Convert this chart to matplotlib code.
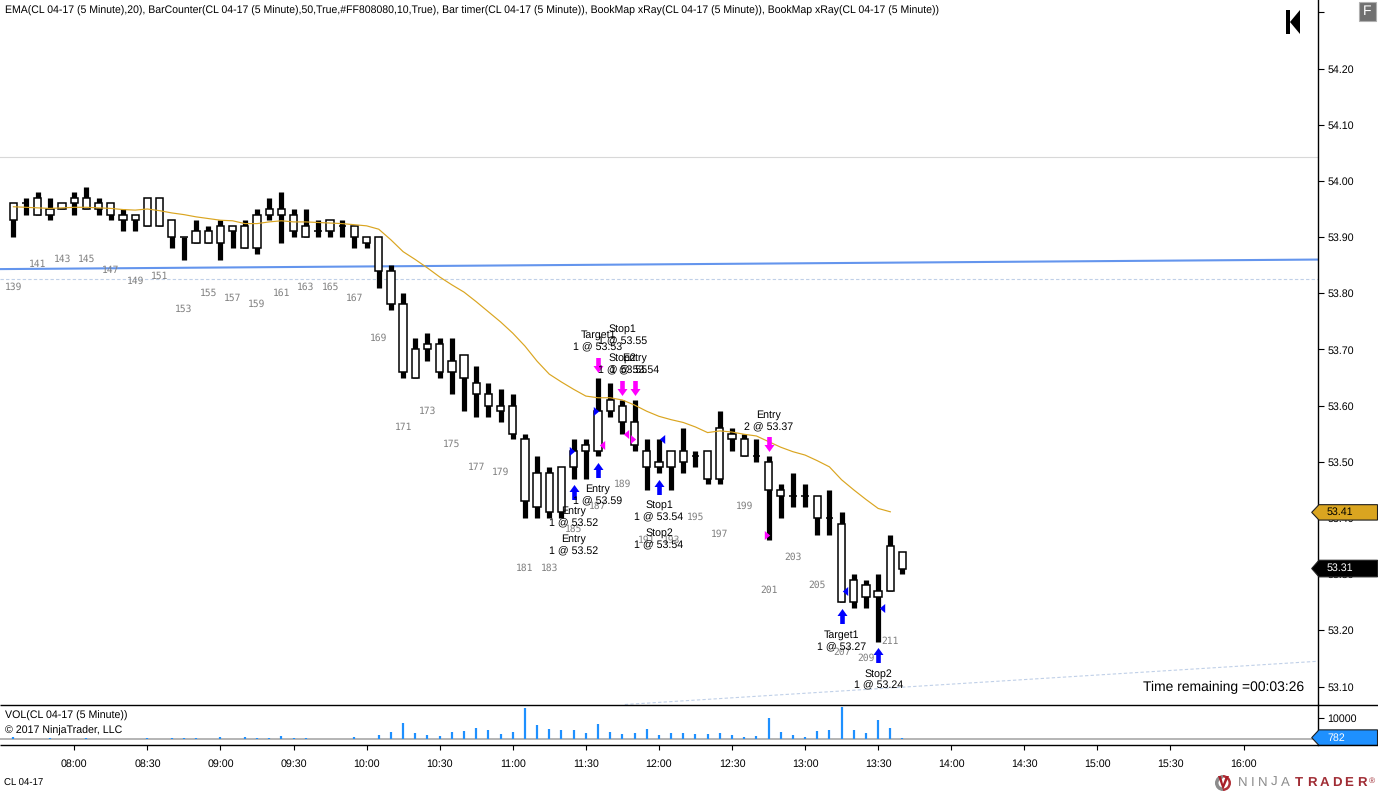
import numpy as np
import matplotlib
matplotlib.use("Agg")
import matplotlib.pyplot as plt
from matplotlib.path import Path
from matplotlib.patches import Polygon, Rectangle, Wedge
from matplotlib.transforms import offset_copy

plt.rcParams["font.family"] = ["Liberation Sans", "DejaVu Sans"]
plt.rcParams["text.hinting"] = "no_hinting"

# Bars 139..212, 5 minute CL 04-17
first_bar = 139
highs = [53.96, 53.97, 53.98, 53.97, 53.96, 53.98, 53.99, 53.97, 53.96, 53.95,
         53.94, 53.97, 53.97, 53.93, 53.90, 53.93, 53.92, 53.93, 53.92, 53.93,
         53.95, 53.97, 53.98, 53.95, 53.95, 53.93, 53.93, 53.93, 53.92, 53.90,
         53.90, 53.85, 53.80, 53.72, 53.73, 53.72, 53.72, 53.69, 53.67, 53.64,
         53.63, 53.62, 53.55, 53.51, 53.49, 53.49, 53.54, 53.54, 53.65, 53.64,
         53.61, 53.61, 53.54, 53.54, 53.52, 53.56, 53.52, 53.52, 53.59, 53.56,
         53.55, 53.54, 53.51, 53.46, 53.48, 53.46, 53.44, 53.45, 53.41, 53.30,
         53.29, 53.30, 53.37, 53.34]
body_tops = [53.96, 53.96, 53.97, 53.95, 53.96, 53.97, 53.97, 53.96, 53.96, 53.94,
             53.94, 53.97, 53.97, 53.93, 53.90, 53.91, 53.91, 53.92, 53.92, 53.92,
             53.94, 53.95, 53.95, 53.94, 53.92, 53.91, 53.93, 53.92, 53.92, 53.90,
             53.90, 53.84, 53.78, 53.70, 53.71, 53.71, 53.68, 53.69, 53.64, 53.62,
             53.60, 53.60, 53.54, 53.48, 53.48, 53.49, 53.52, 53.53, 53.59, 53.61,
             53.60, 53.57, 53.52, 53.50, 53.52, 53.52, 53.51, 53.52, 53.56, 53.55,
             53.54, 53.51, 53.50, 53.45, 53.44, 53.44, 53.44, 53.40, 53.39, 53.29,
             53.28, 53.27, 53.35, 53.34]
body_bottoms = [53.93, 53.96, 53.94, 53.94, 53.95, 53.96, 53.95, 53.95, 53.94, 53.93,
                53.93, 53.92, 53.92, 53.90, 53.90, 53.89, 53.89, 53.89, 53.91, 53.88,
                53.88, 53.94, 53.94, 53.91, 53.90, 53.91, 53.91, 53.92, 53.90, 53.89,
                53.84, 53.78, 53.66, 53.65, 53.70, 53.66, 53.66, 53.65, 53.62, 53.60,
                53.59, 53.55, 53.43, 53.42, 53.41, 53.41, 53.49, 53.52, 53.52, 53.59,
                53.57, 53.53, 53.49, 53.49, 53.49, 53.50, 53.51, 53.47, 53.47, 53.54,
                53.51, 53.51, 53.45, 53.44, 53.44, 53.44, 53.40, 53.40, 53.25, 53.25,
                53.26, 53.26, 53.27, 53.31]
lows = [53.90, 53.94, 53.94, 53.93, 53.95, 53.94, 53.95, 53.94, 53.93, 53.91,
        53.91, 53.92, 53.92, 53.88, 53.86, 53.89, 53.89, 53.86, 53.88, 53.88,
        53.87, 53.93, 53.89, 53.90, 53.90, 53.90, 53.90, 53.90, 53.88, 53.88,
        53.81, 53.77, 53.65, 53.65, 53.68, 53.65, 53.62, 53.59, 53.58, 53.58,
        53.57, 53.54, 53.40, 53.40, 53.40, 53.40, 53.47, 53.47, 53.51, 53.58,
        53.55, 53.52, 53.45, 53.48, 53.45, 53.48, 53.49, 53.46, 53.46, 53.52,
        53.51, 53.50, 53.36, 53.40, 53.42, 53.42, 53.37, 53.37, 53.25, 53.24,
        53.24, 53.18, 53.27, 53.30]

# EMA stops one bar before the last bar
ema = [53.954, 53.953, 53.952, 53.951, 53.952, 53.953, 53.953, 53.952, 53.951, 53.949,
       53.948, 53.950, 53.947, 53.943, 53.940, 53.936, 53.933, 53.930, 53.929, 53.924,
       53.924, 53.927, 53.929, 53.927, 53.927, 53.926, 53.925, 53.924, 53.922, 53.920,
       53.914, 53.895, 53.874, 53.860, 53.845, 53.829, 53.815, 53.802, 53.785, 53.767,
       53.749, 53.729, 53.706, 53.679, 53.656, 53.642, 53.629, 53.617, 53.614, 53.614,
       53.610, 53.601, 53.590, 53.581, 53.575, 53.570, 53.562, 53.552, 53.555, 53.553,
       53.549, 53.546, 53.536, 53.526, 53.518, 53.512, 53.502, 53.491, 53.468, 53.450,
       53.433, 53.417, 53.411]

volumes = [950, 160, 320, 800, 320, 320, 800, 320, 320, 160,
           160, 640, 160, 640, 640, 640, 320, 950, 160, 950,
           640, 640, 1430, 800, 640, 320, 320, 320, 950, 160,
           1900, 3340, 7630, 2860, 1900, 1430, 3340, 3820, 5250, 4450,
           2540, 3500, 14950, 6840, 4930, 4450, 4450, 3020, 7310, 3500,
           2540, 3020, 4930, 2070, 3020, 3020, 2540, 2540, 3020, 2070,
           1110, 1590, 10180, 3500, 2070, 1110, 3980, 4450, 15420, 4450,
           3020, 9220, 5410, 782]

# Trade markers: (bar number, text, price of the text centre)
trade_bars = [187, 189, 189, 190, 192, 192, 201, 187, 185, 185, 207, 210]
trade_names = ["Target1", "Stop1", "Stop2", "Entry", "Stop1", "Stop2",
               "Entry", "Entry", "Entry", "Entry", "Target1", "Stop2"]
trade_fills = ["1 @ 53.53", "1 @ 53.55", "1 @ 53.55", "1 @ 53.54", "1 @ 53.54", "1 @ 53.54",
               "2 @ 53.37", "1 @ 53.59", "1 @ 53.52", "1 @ 53.52", "1 @ 53.27", "1 @ 53.24"]
trade_text_prices = [53.715, 53.725, 53.674, 53.674, 53.412, 53.362,
                     53.572, 53.441, 53.402, 53.352, 53.181, 53.112]
buy_arrow_bars = [185, 187, 192, 207, 210]
sell_arrow_bars = [187, 189, 190, 201]
# Small execution triangles
right_tri_blue = [(185, 53.52), (187, 53.59)]
left_tri_blue = [(192, 53.54), (207, 53.27), (210, 53.24)]
left_tri_magenta = [(187, 53.53), (189, 53.55)]
right_tri_magenta = [(190, 53.54), (201, 53.37)]

# Drawn levels: price at the left and right edge of the chart
blue_line_prices = [53.843, 53.860]
dotted_level = 53.826
gray_level = 54.042
lower_trend_minutes = [706, 990.7]
lower_trend_prices = [53.068, 53.145]

time_labels = ["08:00", "08:30", "09:00", "09:30", "10:00", "10:30", "11:00", "11:30", "12:00",
               "12:30", "13:00", "13:30", "14:00", "14:30", "15:00", "15:30", "16:00"]
time_ticks = [480 + 30 * i for i in range(len(time_labels))]
price_ticks = [53.10, 53.20, 53.30, 53.40, 53.50, 53.60, 53.70, 53.80, 53.90, 54.00, 54.10, 54.20, 54.30]

W, H = 1378, 792
px = 72 / 100  # one pixel in points
font_small = 7.65

highs, lows = np.array(highs), np.array(lows)
body_tops, body_bottoms = np.array(body_tops), np.array(body_bottoms)
bars = np.arange(first_bar, first_bar + len(highs))


def bar_time(bar):
    return 455 + 5 * (np.asarray(bar) - first_bar)


minutes = bar_time(bars)

fig = plt.figure(figsize=(W / 100, H / 100), dpi=100)
ax = fig.add_axes([0, (H - 704.5) / H, 1318.3 / W, 704.5 / H])
ax_vol = fig.add_axes([0, (H - 745.3) / H, 1318.3 / W, 40.6 / H], sharex=ax)

ax.set_xlim(449.5, 990.7)
ax.set_ylim(53.068, 54.322)
ax_vol.set_ylim(-2857, 16476)

for a in (ax, ax_vol):
    for side in ("top", "left", "bottom"):
        a.spines[side].set_visible(False)
    a.spines["right"].set_linewidth(1.0)
    a.yaxis.tick_right()
    a.tick_params(axis="y", length=6 * px, width=0.8, pad=3 * px, labelsize=font_small)

ax.tick_params(axis="x", length=0, labelbottom=False)
ax.set_yticks(price_ticks)
ax.set_yticklabels(["%.2f" % p if p < 54.25 else "" for p in price_ticks])
ax_vol.set_yticks([10000])
ax_vol.set_yticklabels(["10000"])
ax_vol.set_xticks(time_ticks)
ax_vol.set_xticklabels(time_labels)
ax_vol.tick_params(axis="x", length=5 * px, width=0.8, pad=9 * px, labelsize=font_small)

# Levels
ax.axhline(gray_level, color="#d8d8d8", lw=0.8, zorder=1)
ax.plot(ax.get_xlim(), blue_line_prices, color="#6495ed", lw=1.5, zorder=1.5)
ax.axhline(dotted_level, color="#c0d0e8", lw=0.8, ls=(0, (3, 2)), zorder=1)
ax.plot(lower_trend_minutes, lower_trend_prices, color="#c0d0e8", lw=0.8, ls=(0, (3, 2)), zorder=1)

# Candles
ax.vlines(minutes, lows, highs, color="black", lw=5.2 * px, zorder=2)
ax.bar(minutes, body_tops - body_bottoms, bottom=body_bottoms, width=3.0,
       facecolor="white", edgecolor="black", linewidth=1.1, zorder=3)
ax.plot(minutes[:len(ema)], ema, color="#daa520", lw=0.85, zorder=4)

# Bar counter under every second bar
for bar, low in zip(bars, lows):
    if bar % 2 == 1 and bar < first_bar + 73:
        ax.annotate(str(bar), (bar_time(bar), low), xytext=(0, -50 * px), textcoords="offset points",
                    ha="center", va="center", fontsize=6.9, color="#808080",
                    family="DejaVu Sans Mono", zorder=5)

# Entry and exit arrows
arrow_up = Path([(0, 7.5), (5, 0.5), (2.3, 0.5), (2.3, -7.5), (-2.3, -7.5), (-2.3, 0.5), (-5, 0.5), (0, 7.5)], closed=True)
arrow_down = Path([(0, -7.5), (5, -0.5), (2.3, -0.5), (2.3, 7.5), (-2.3, 7.5), (-2.3, -0.5), (-5, -0.5), (0, -7.5)], closed=True)
below = offset_copy(ax.transData, fig=fig, y=-13.5, units="dots")
above = offset_copy(ax.transData, fig=fig, y=12.5, units="dots")
buy_idx = np.array(buy_arrow_bars) - first_bar
sell_idx = np.array(sell_arrow_bars) - first_bar
ax.plot(minutes[buy_idx], lows[buy_idx], ls="", marker=arrow_up, ms=15 * px, color="#0000ff", mew=0, transform=below, zorder=6)
ax.plot(minutes[sell_idx], highs[sell_idx], ls="", marker=arrow_down, ms=15 * px, color="#ff00ff", mew=0, transform=above, zorder=6)

tri_right = Path([(-2.7, -4.5), (2.7, 0), (-2.7, 4.5), (-2.7, -4.5)], closed=True)
tri_left = Path([(2.7, -4.5), (-2.7, 0), (2.7, 4.5), (2.7, -4.5)], closed=True)
left_side = offset_copy(ax.transData, fig=fig, x=-1.8, units="dots")
right_side = offset_copy(ax.transData, fig=fig, x=3.5, units="dots")
for points, marker, color, side in [(right_tri_blue, tri_right, "#0000ff", left_side),
                                    (left_tri_blue, tri_left, "#0000ff", right_side),
                                    (right_tri_magenta, tri_right, "#ff00ff", left_side),
                                    (left_tri_magenta, tri_left, "#ff00ff", right_side)]:
    xs = [bar_time(b) for b, p in points]
    ys = [p for b, p in points]
    ax.plot(xs, ys, ls="", marker=marker, ms=9 * px, color=color, mew=0, transform=side, zorder=6)

for bar, name, fill, price in zip(trade_bars, trade_names, trade_fills, trade_text_prices):
    ax.text(bar_time(bar), price, name + "\n" + fill, ha="center", va="center", fontsize=font_small,
            linespacing=1.3, color="black", zorder=7)

ax_vol.vlines(minutes, 0, volumes, color="#1e90ff", lw=2.2 * px, zorder=3)
ax_vol.axhline(0, color="#a0a0a0", lw=1.1, zorder=2)

# Overlay in pixel coordinates for the frame, price tags and logo
ov = fig.add_axes([0, 0, 1, 1], zorder=10)
ov.set_xlim(0, W)
ov.set_ylim(H, 0)
ov.axis("off")
ov.hlines([704.5, 745.3], 0, W, color="black", lw=1.0)


def to_pixel_y(axes, value):
    return H - axes.transData.transform((0, value))[1]


def price_tag(y, half, text, face, text_color):
    pts = [(1311.7, y), (1319, y - half), (1377.5, y - half), (1377.5, y + half), (1319, y + half)]
    ov.add_patch(Polygon(pts, closed=True, facecolor=face, edgecolor="#202020", lw=0.8))
    ov.text(1327, y, text, ha="left", va="center", fontsize=font_small, color=text_color)


price_tag(to_pixel_y(ax, 53.41), 7.7, "53.41", "#daa520", "black")
price_tag(to_pixel_y(ax, 53.31), 8.3, "53.31", "black", "white")
price_tag(to_pixel_y(ax_vol, volumes[-1]), 7.8, "782", "#1e90ff", "white")

ov.text(5, 11, "EMA(CL 04-17 (5 Minute),20), BarCounter(CL 04-17 (5 Minute),50,True,#FF808080,10,True), "
        "Bar timer(CL 04-17 (5 Minute)), BookMap xRay(CL 04-17 (5 Minute)), BookMap xRay(CL 04-17 (5 Minute))",
        ha="left", va="center", fontsize=7.6, color="black")
ov.text(5, 716, "VOL(CL 04-17 (5 Minute))", ha="left", va="center", fontsize=font_small)
ov.text(5, 731, "\u00a9 2017 NinjaTrader, LLC", ha="left", va="center", fontsize=font_small)
ov.text(4, 783, "CL 04-17", ha="left", va="center", fontsize=6.9)
ov.text(1143, 687, "Time remaining =00:03:26", ha="left", va="center", fontsize=10)

# Skip-to-end icon and F button
ov.add_patch(Rectangle((1286, 10), 4, 24, facecolor="black", edgecolor="none"))
ov.add_patch(Polygon([(1290, 22), (1300, 10), (1300, 34)], closed=True, facecolor="black", edgecolor="none"))
ov.add_patch(Rectangle((1359, 2), 17, 19, facecolor="#707070", edgecolor="#b0b0b0", lw=0.8))
ov.text(1367.5, 11.5, "F", ha="center", va="center", fontsize=10, color="white")

# Logo
ov.add_patch(Wedge((1223, 783), 8, 90, 270, width=3.5, facecolor="#8c8c8c", edgecolor="none"))
ov.add_patch(Wedge((1223, 783), 8, 270, 90, width=2.5, facecolor="#b03038", edgecolor="none"))
ov.add_patch(Polygon([(1218, 776), (1223, 790), (1229, 776), (1226, 776), (1223, 784), (1221, 776)],
                     closed=True, facecolor="#a81e28", edgecolor="none"))
for ch, x in zip("NINJA", [1243, 1253, 1263, 1274, 1285]):
    ov.text(x, 783, ch, ha="center", va="center", fontsize=9.5, color="#8c8c8c")
for ch, x in zip("TRADER", [1299, 1311.5, 1324, 1337, 1349, 1361.5]):
    ov.text(x, 783, ch, ha="center", va="center", fontsize=9.5, color="#a02c34", fontweight="bold")
ov.text(1372, 781, "\u00ae", ha="center", va="center", fontsize=6, color="#a02c34")

fig.savefig("out.png", dpi=100)
